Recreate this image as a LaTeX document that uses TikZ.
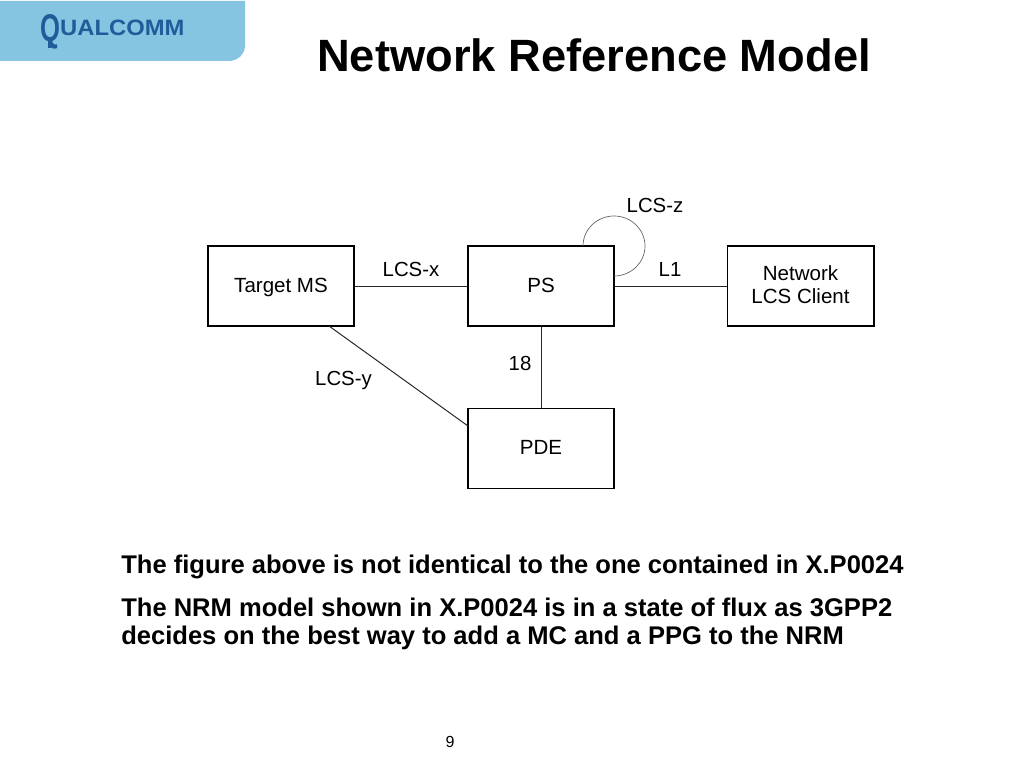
\documentclass[tikz,border=0pt]{standalone}
\usepackage{fontspec}
\setmainfont{Liberation Sans}
\newfontface\logoface[FakeStretch=1.07]{Liberation Sans Bold}
\usepackage{xcolor}
\definecolor{panelblue}{HTML}{86C5E2}
\definecolor{logoblue}{HTML}{1F5C99}
\tikzset{
 block/.style={draw, line width=1.4pt, minimum width=2.5cm*1.46, minimum height=2cm, inner sep=0pt, align=center, text depth=1.4pt, font=\fontsize{14.6pt}{16.4pt}\selectfont},
 tag/.style={font=\fontsize{14.5pt}{17pt}\selectfont, inner sep=0pt, anchor=base},
 note/.style={font=\fontsize{18.17pt}{20pt}\selectfont\bfseries, inner sep=0pt, anchor=base west},
 link/.style={line width=0.7pt, draw=black!85}
}
\begin{document}
\begin{tikzpicture}[x=0.025cm, y=-0.025cm]
 \useasboundingbox (0, 0) rectangle (1024, 768);

 \fill [panelblue] (0, 1) -- (245, 1) -- (245, 47) .. controls (244, 55) and (238, 60) .. (231, 61) -- (0, 61) -- cycle;
 \node [inner sep=0pt, anchor=base west, text=logoblue] (logo) at (40, 36) {\logoface\raisebox{-4pt}{\scalebox{0.62}[1]{\fontsize{27.5pt}{27pt}\selectfont Q}}\fontsize{15.8pt}{16pt}\selectfont UALCOMM};
 \draw [line width=2pt, draw=logoblue] (49.5, 38) -- (49.5, 48.5);
 \node [inner sep=0pt, anchor=base west, font=\fontsize{32.2pt}{36pt}\selectfont\bfseries] (title) at (317, 72) {Network Reference Model};

 \node [block] (target) at (281, 286) {Target MS};
 \node [block] (ps) at (541, 286) {PS};
 \node [block] (client) at (800.5, 286) {Network\\LCS Client};
 \node [block] (pde) at (541, 448.5) {PDE};

 \coordinate (loopstart) at (583, 246);
 \coordinate (diagstart) at (329, 326);
 \coordinate (diagend) at (468, 426);

 \draw [link] (target) -- (ps);
 \draw [link] (ps) -- (client);
 \draw [link] (ps) -- (pde);
 \draw [link] (diagstart) -- (diagend);
 \draw [line width=0.5pt, draw=black!60] (loopstart) arc [start angle=180, end angle=-90, x radius=31, y radius=-30];

 \node [tag] (lcsx) at (411, 276) {LCS-x};
 \node [tag] (lcsz) at (655, 212) {LCS-z};
 \node [tag] (lone) at (670, 276) {L1};
 \node [tag] (eighteen) at (520, 370) {18};
 \node [tag] (lcsy) at (343.5, 385) {LCS-y};

 \node [note] (noteone) at (121, 573) {The figure above is not identical to the one contained in X.P0024};
 \node [note] (notetwo) at (121, 616.5) {The NRM model shown in X.P0024 is in a state of flux as 3GPP2};
 \node [note] (notethree) at (121, 644) {decides on the best way to add a MC and a PPG to the NRM};
 \node [inner sep=0pt, anchor=base, font=\fontsize{11.4pt}{13pt}\selectfont] (page) at (450, 747) {9};
\end{tikzpicture}
\end{document}
